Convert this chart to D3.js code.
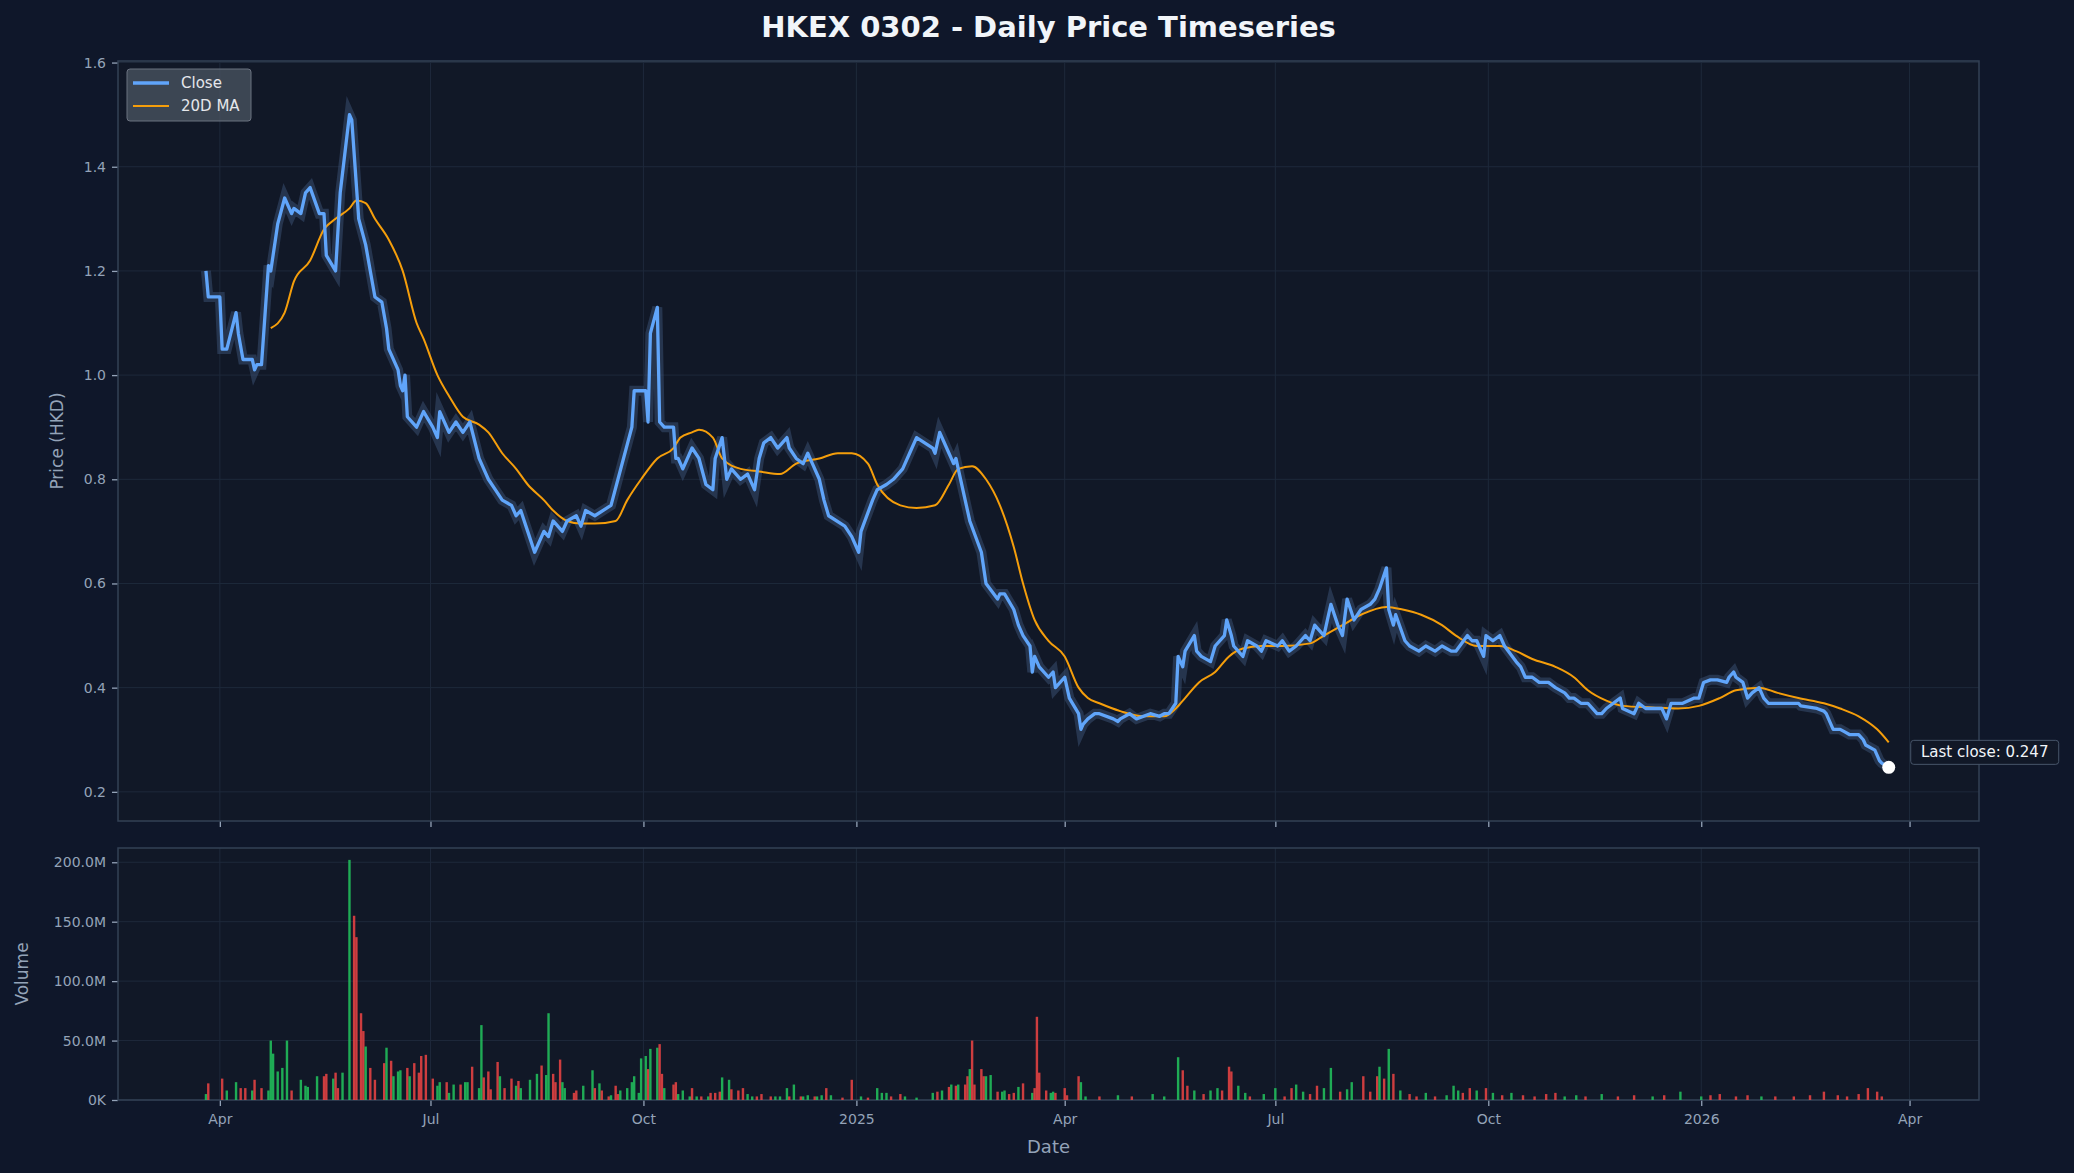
<!DOCTYPE html>
<html><head><meta charset="utf-8">
<script src="https://cdn.jsdelivr.net/npm/d3@7"></script>
<style>html,body{margin:0;padding:0;background:#0f172a;}svg{display:block;font-family:"DejaVu Sans",sans-serif;}</style>
</head><body>
<script>
const closeDates = ["2024-03-26","2024-03-27","2024-04-01","2024-04-02","2024-04-04","2024-04-08","2024-04-09","2024-04-11","2024-04-15","2024-04-16","2024-04-17","2024-04-19","2024-04-22","2024-04-23","2024-04-25","2024-04-26","2024-04-29","2024-05-02","2024-05-03","2024-05-06","2024-05-08","2024-05-10","2024-05-14","2024-05-16","2024-05-17","2024-05-21","2024-05-23","2024-05-27","2024-05-28","2024-05-31","2024-06-03","2024-06-05","2024-06-07","2024-06-10","2024-06-12","2024-06-13","2024-06-17","2024-06-18","2024-06-19","2024-06-20","2024-06-21","2024-06-25","2024-06-28","2024-07-02","2024-07-04","2024-07-05","2024-07-09","2024-07-12","2024-07-15","2024-07-18","2024-07-22","2024-07-24","2024-07-26","2024-07-29","2024-08-01","2024-08-05","2024-08-07","2024-08-09","2024-08-12","2024-08-15","2024-08-19","2024-08-21","2024-08-23","2024-08-27","2024-08-29","2024-09-02","2024-09-04","2024-09-06","2024-09-10","2024-09-17","2024-09-20","2024-09-26","2024-09-27","2024-10-02","2024-10-03","2024-10-04","2024-10-07","2024-10-08","2024-10-10","2024-10-14","2024-10-15","2024-10-16","2024-10-18","2024-10-22","2024-10-25","2024-10-28","2024-10-31","2024-11-01","2024-11-04","2024-11-06","2024-11-08","2024-11-12","2024-11-15","2024-11-18","2024-11-20","2024-11-22","2024-11-25","2024-11-28","2024-12-02","2024-12-03","2024-12-06","2024-12-09","2024-12-11","2024-12-13","2024-12-16","2024-12-18","2024-12-20","2024-12-27","2024-12-30","2025-01-02","2025-01-03","2025-01-08","2025-01-10","2025-01-14","2025-01-17","2025-01-21","2025-01-24","2025-01-27","2025-02-03","2025-02-04","2025-02-06","2025-02-10","2025-02-11","2025-02-12","2025-02-13","2025-02-19","2025-02-24","2025-02-26","2025-03-03","2025-03-04","2025-03-06","2025-03-10","2025-03-12","2025-03-14","2025-03-17","2025-03-18","2025-03-19","2025-03-21","2025-03-25","2025-03-27","2025-03-28","2025-04-01","2025-04-03","2025-04-07","2025-04-08","2025-04-09","2025-04-11","2025-04-14","2025-04-16","2025-04-22","2025-04-24","2025-04-25","2025-04-29","2025-05-02","2025-05-08","2025-05-12","2025-05-14","2025-05-16","2025-05-19","2025-05-20","2025-05-22","2025-05-23","2025-05-27","2025-05-28","2025-05-30","2025-06-03","2025-06-05","2025-06-09","2025-06-10","2025-06-12","2025-06-13","2025-06-17","2025-06-19","2025-06-23","2025-06-25","2025-06-27","2025-07-02","2025-07-04","2025-07-07","2025-07-10","2025-07-14","2025-07-16","2025-07-18","2025-07-22","2025-07-24","2025-07-25","2025-07-28","2025-07-30","2025-08-01","2025-08-04","2025-08-07","2025-08-11","2025-08-13","2025-08-15","2025-08-18","2025-08-19","2025-08-21","2025-08-22","2025-08-26","2025-08-28","2025-09-01","2025-09-04","2025-09-08","2025-09-11","2025-09-15","2025-09-17","2025-09-22","2025-09-24","2025-09-26","2025-09-29","2025-09-30","2025-10-03","2025-10-06","2025-10-08","2025-10-13","2025-10-15","2025-10-17","2025-10-20","2025-10-23","2025-10-27","2025-10-30","2025-11-03","2025-11-05","2025-11-07","2025-11-10","2025-11-13","2025-11-17","2025-11-19","2025-11-21","2025-11-24","2025-11-27","2025-11-28","2025-12-03","2025-12-05","2025-12-08","2025-12-11","2025-12-15","2025-12-17","2025-12-19","2025-12-22","2025-12-24","2025-12-29","2025-12-31","2026-01-02","2026-01-05","2026-01-08","2026-01-12","2026-01-13","2026-01-15","2026-01-16","2026-01-19","2026-01-21","2026-01-23","2026-01-26","2026-01-28","2026-01-30","2026-02-02","2026-02-06","2026-02-09","2026-02-12","2026-02-13","2026-02-20","2026-02-23","2026-02-24","2026-02-27","2026-03-02","2026-03-04","2026-03-06","2026-03-10","2026-03-12","2026-03-13","2026-03-17","2026-03-18","2026-03-19","2026-03-20","2026-03-23"];
const closeValues = [1.20,1.15,1.15,1.05,1.05,1.12,1.08,1.03,1.03,1.01,1.02,1.02,1.21,1.20,1.26,1.29,1.34,1.31,1.32,1.31,1.35,1.36,1.31,1.31,1.23,1.20,1.35,1.50,1.49,1.30,1.25,1.20,1.15,1.14,1.09,1.05,1.01,0.98,0.97,1.00,0.92,0.90,0.93,0.90,0.88,0.93,0.89,0.91,0.89,0.91,0.84,0.82,0.80,0.78,0.76,0.75,0.73,0.74,0.70,0.66,0.70,0.69,0.72,0.70,0.72,0.73,0.71,0.74,0.73,0.75,0.80,0.90,0.97,0.97,0.91,1.08,1.13,0.91,0.90,0.90,0.84,0.84,0.82,0.86,0.84,0.79,0.78,0.84,0.88,0.80,0.82,0.80,0.81,0.78,0.84,0.87,0.88,0.86,0.88,0.86,0.84,0.83,0.85,0.83,0.80,0.76,0.73,0.71,0.69,0.66,0.70,0.76,0.78,0.79,0.80,0.82,0.85,0.88,0.86,0.85,0.89,0.85,0.84,0.83,0.84,0.72,0.66,0.60,0.57,0.58,0.58,0.55,0.52,0.50,0.48,0.43,0.46,0.44,0.42,0.43,0.40,0.42,0.38,0.35,0.32,0.33,0.34,0.35,0.35,0.34,0.335,0.34,0.35,0.34,0.35,0.345,0.35,0.35,0.37,0.46,0.44,0.47,0.50,0.47,0.46,0.45,0.48,0.50,0.53,0.50,0.48,0.46,0.49,0.48,0.47,0.49,0.48,0.49,0.47,0.48,0.50,0.49,0.52,0.50,0.54,0.56,0.52,0.50,0.57,0.53,0.55,0.56,0.57,0.59,0.63,0.55,0.52,0.54,0.49,0.48,0.47,0.48,0.47,0.48,0.47,0.47,0.50,0.49,0.49,0.46,0.50,0.49,0.50,0.48,0.45,0.44,0.42,0.42,0.41,0.41,0.40,0.39,0.38,0.38,0.37,0.37,0.35,0.35,0.36,0.37,0.38,0.36,0.35,0.37,0.36,0.36,0.36,0.34,0.37,0.37,0.37,0.38,0.38,0.41,0.415,0.415,0.41,0.42,0.43,0.42,0.41,0.38,0.39,0.40,0.38,0.37,0.37,0.37,0.37,0.37,0.365,0.36,0.355,0.35,0.32,0.32,0.315,0.31,0.31,0.30,0.29,0.28,0.27,0.26,0.255,0.247];
const maDates = ["2024-04-23","2024-04-29","2024-05-03","2024-05-10","2024-05-16","2024-05-21","2024-05-27","2024-05-30","2024-06-03","2024-06-07","2024-06-13","2024-06-19","2024-06-25","2024-06-28","2024-07-04","2024-07-09","2024-07-15","2024-07-22","2024-07-26","2024-08-01","2024-08-07","2024-08-12","2024-08-19","2024-08-23","2024-08-29","2024-09-04","2024-09-10","2024-09-19","2024-09-24","2024-09-30","2024-10-07","2024-10-14","2024-10-17","2024-10-22","2024-10-25","2024-10-31","2024-11-04","2024-11-12","2024-11-20","2024-11-29","2024-12-06","2024-12-16","2024-12-24","2024-12-30","2025-01-06","2025-01-10","2025-01-20","2025-01-27","2025-02-04","2025-02-10","2025-02-14","2025-02-20","2025-02-26","2025-03-04","2025-03-10","2025-03-14","2025-03-19","2025-03-25","2025-04-01","2025-04-07","2025-04-11","2025-04-16","2025-04-25","2025-05-05","2025-05-14","2025-05-19","2025-05-23","2025-05-29","2025-06-05","2025-06-11","2025-06-17","2025-06-25","2025-07-04","2025-07-16","2025-07-22","2025-07-30","2025-08-07","2025-08-18","2025-08-25","2025-09-02","2025-09-11","2025-09-17","2025-09-26","2025-10-06","2025-10-13","2025-10-20","2025-10-30","2025-11-07","2025-11-13","2025-11-21","2025-11-28","2025-12-11","2025-12-22","2025-12-31","2026-01-09","2026-01-16","2026-01-26","2026-02-03","2026-02-12","2026-02-23","2026-03-02","2026-03-10","2026-03-18","2026-03-23"];
const maValues = [1.09,1.12,1.18,1.22,1.28,1.30,1.32,1.335,1.33,1.30,1.26,1.20,1.10,1.07,1.00,0.96,0.92,0.905,0.89,0.85,0.82,0.79,0.76,0.74,0.72,0.715,0.715,0.72,0.76,0.80,0.84,0.86,0.88,0.89,0.895,0.88,0.84,0.82,0.815,0.81,0.83,0.84,0.85,0.85,0.83,0.79,0.75,0.745,0.75,0.79,0.82,0.825,0.80,0.75,0.67,0.60,0.53,0.49,0.46,0.40,0.38,0.37,0.355,0.345,0.345,0.36,0.38,0.41,0.43,0.46,0.475,0.48,0.48,0.485,0.50,0.52,0.54,0.555,0.55,0.54,0.52,0.50,0.48,0.48,0.47,0.455,0.44,0.42,0.395,0.375,0.365,0.362,0.36,0.365,0.38,0.395,0.40,0.39,0.38,0.37,0.36,0.345,0.32,0.295];
// volume: days after 2024-04-01, volume in millions, direction (1 up / 0 down)
const volBaseDate = "2024-04-01";
const volDay = [-6,-5,1,3,7,9,11,14,15,18,21,22,23,25,27,29,31,35,37,38,42,45,46,49,50,51,53,56,58,59,61,62,63,65,67,71,72,74,75,77,78,81,82,84,86,87,89,92,94,95,98,99,101,104,106,107,109,112,113,114,116,117,120,121,123,126,128,129,130,134,137,139,141,142,144,145,147,148,149,153,154,157,161,162,164,165,168,169,171,172,173,176,178,179,181,182,184,185,186,189,190,191,192,196,197,198,200,203,204,206,208,211,212,214,216,217,220,221,224,226,228,230,232,234,238,240,242,245,246,248,251,252,254,257,258,260,262,264,269,273,277,280,284,286,288,290,294,296,301,308,310,312,315,316,318,319,322,323,324,325,326,329,330,331,333,336,338,339,341,343,345,347,351,352,353,354,357,359,360,361,365,366,371,372,374,380,388,394,403,408,414,416,418,421,425,428,431,433,436,437,440,443,445,451,456,460,463,465,468,471,474,477,480,484,487,489,494,497,500,501,503,505,507,510,514,517,521,525,530,533,535,537,540,543,547,550,554,558,563,568,573,577,581,586,590,597,604,611,619,624,631,640,644,648,655,660,666,672,680,687,693,699,703,708,712,716,718,721];
const volMillions = [5,14,18,8,15,10,10,8,17,10,8,50,39,24,27,50,8,17,12,11,20,20,22,18,23,10,23,202,155,137,73,58,45,27,17,31,44,33,20,24,25,27,20,31,23,37,38,18,12,15,15,6,13,13,15,15,28,10,63,19,24,9,32,20,10,18,12,16,10,17,22,29,21,73,22,15,34,15,10,6,8,12,25,10,14,8,3,4,12,5,8,10,15,20,6,35,37,26,43,44,47,22,10,13,15,5,8,3,10,3,3,3,6,6,7,19,17,9,8,10,5,3,3,5,3,3,3,10,3,13,3,3,4,3,3,4,10,4,2,17,3,2,10,6,6,3,5,3,2,6,7,8,11,13,12,13,13,20,26,50,13,26,20,20,21,7,7,8,5,6,11,14,6,10,70,23,8,6,7,6,10,4,20,15,3,3,4,3,5,3,36,25,12,8,5,8,10,8,28,24,12,6,3,5,10,3,10,13,7,5,12,10,27,7,9,15,20,7,20,28,18,43,22,8,5,3,6,3,4,12,8,6,10,8,10,6,4,6,4,3,5,6,3,4,3,5,3,4,3,4,7,3,4,5,3,4,3,3,3,4,7,4,3,5,10,7,3];
const volUp = [1,0,0,1,1,0,0,1,0,0,1,1,1,1,1,1,0,1,1,1,1,0,0,1,0,0,1,1,0,0,0,0,1,0,0,0,1,0,1,1,1,0,1,0,0,0,0,0,1,1,0,1,1,0,1,1,0,1,1,0,0,0,0,1,0,0,1,0,1,1,1,0,1,1,0,0,0,1,1,0,0,1,1,0,1,0,0,1,0,0,1,1,1,1,1,1,1,0,1,1,0,0,1,0,0,1,1,1,0,1,0,1,0,0,0,1,1,0,0,0,1,1,0,0,0,1,1,1,0,1,0,1,1,0,1,1,0,1,0,0,1,0,1,1,1,0,0,1,1,1,0,1,0,1,0,1,0,0,1,0,0,0,0,1,1,0,1,1,0,0,1,0,1,0,0,0,0,1,1,0,0,0,0,1,1,0,1,0,1,1,1,0,0,1,0,1,1,0,0,0,1,1,0,1,1,0,0,1,1,0,0,1,1,0,1,1,0,0,0,1,0,1,0,1,0,0,1,0,1,1,1,0,0,1,0,1,0,1,0,0,0,0,1,1,0,1,0,0,1,0,1,1,0,0,0,0,1,0,0,0,0];
const priceTicks = [0.2,0.4,0.6,0.8,1.0,1.2,1.4,1.6];
const volTicks = [0,50e6,100e6,150e6,200e6];
const lastCloseLabel = "Last close: 0.247";

const W=2074,H=1173;
const parse=d3.timeParse("%Y-%m-%d");
const closeData=closeDates.map((d,i)=>({date:parse(d),v:closeValues[i]}));
const maData=maDates.map((d,i)=>({date:parse(d),v:maValues[i]}));
const base=parse(volBaseDate);
const volData=volDay.map((d,i)=>({date:d3.timeDay.offset(base,d),v:volMillions[i]*1e6,up:volUp[i]}));

const L=118,R=1979,pT=61,pB=821,vT=848,vB=1100;
const x=d3.scaleTime().domain([parse("2024-02-17"),parse("2026-05-01")]).range([L,R]);
const y=d3.scaleLinear().domain([0.144,1.603]).range([pB,pT]);
const yv=d3.scaleLinear().domain([0,212e6]).range([vB,vT]);
const xTicks=[parse("2024-04-01"),parse("2024-07-01"),parse("2024-10-01"),parse("2025-01-01"),parse("2025-04-01"),parse("2025-07-01"),parse("2025-10-01"),parse("2026-01-01"),parse("2026-04-01")];
const xFmt=d=>d.getMonth()===0?d3.timeFormat("%Y")(d):d3.timeFormat("%b")(d);

const svg=d3.select("body").append("svg").attr("width",W).attr("height",H);
svg.append("rect").attr("width",W).attr("height",H).attr("fill","#0f172a");
const txt="#94a3b8",grid="#1e293b",spine="#334155";
[[pT,pB],[vT,vB]].forEach(([t,b])=>svg.append("rect").attr("x",L).attr("y",t).attr("width",R-L).attr("height",b-t).attr("fill","#111827"));

// grids
const gP=svg.append("g");
gP.selectAll("line.h").data(priceTicks).join("line").attr("x1",L).attr("x2",R).attr("y1",d=>y(d)).attr("y2",d=>y(d)).attr("stroke",grid).attr("stroke-width",1);
[[pT,pB],[vT,vB]].forEach(([t,b])=>svg.append("g").selectAll("line").data(xTicks).join("line").attr("x1",d=>x(d)).attr("x2",d=>x(d)).attr("y1",t).attr("y2",b).attr("stroke",grid));
svg.append("g").selectAll("line").data(volTicks).join("line").attr("x1",L).attr("x2",R).attr("y1",d=>yv(d)).attr("y2",d=>yv(d)).attr("stroke",grid);

// axes
const styleAx=g=>{g.select(".domain").remove();g.selectAll(".tick line").attr("stroke",txt).attr("stroke-width",1.3);g.selectAll("text").attr("fill",txt).attr("font-size",14).attr("font-family","DejaVu Sans");};
svg.append("g").attr("transform",`translate(${L},0)`).call(d3.axisLeft(y).tickValues(priceTicks).tickFormat(d3.format(".1f")).tickSize(6).tickPadding(6)).call(styleAx);
svg.append("g").attr("transform",`translate(0,${pB})`).call(d3.axisBottom(x).tickValues(xTicks).tickFormat("").tickSize(6)).call(styleAx);
svg.append("g").attr("transform",`translate(${L},0)`).call(d3.axisLeft(yv).tickValues(volTicks).tickFormat(d=>d===0?"0K":(d/1e6).toFixed(1)+"M").tickSize(6).tickPadding(6)).call(styleAx);
svg.append("g").attr("transform",`translate(0,${vB})`).call(d3.axisBottom(x).tickValues(xTicks).tickFormat(xFmt).tickSize(6).tickPadding(8)).call(styleAx);

// spines
[[pT,pB],[vT,vB]].forEach(([t,b])=>svg.append("rect").attr("x",L).attr("y",t).attr("width",R-L).attr("height",b-t).attr("fill","none").attr("stroke",spine).attr("stroke-width",1.5));

// volume bars
svg.append("g").selectAll("rect").data(volData).join("rect")
 .attr("x",d=>x(d.date)-1.2).attr("width",2.4).attr("y",d=>yv(d.v)).attr("height",d=>vB-yv(d.v))
 .attr("fill",d=>d.up?"#22c55e":"#ef4444").attr("opacity",0.85);

// price lines
const line=d3.line().x(d=>x(d.date)).y(d=>y(d.v));
svg.append("path").datum(closeData).attr("d",line).attr("fill","none").attr("stroke","#3b5275").attr("stroke-opacity",0.5).attr("stroke-width",10).attr("stroke-linejoin","miter");
svg.append("path").datum(maData).attr("d",d3.line().x(d=>x(d.date)).y(d=>y(d.v)).curve(d3.curveMonotoneX)).attr("fill","none").attr("stroke","#f59e0b").attr("stroke-width",2);
svg.append("path").datum(closeData).attr("d",line).attr("fill","none").attr("stroke","#60a5fa").attr("stroke-width",3.3).attr("stroke-linejoin","round");

const last=closeData[closeData.length-1];
svg.append("circle").attr("cx",x(last.date)).attr("cy",y(last.v)).attr("r",6.5).attr("fill","#ffffff");
const ann=svg.append("g").attr("transform",`translate(${x(last.date)+22},${y(last.v)-27})`);
ann.append("rect").attr("width",148).attr("height",24).attr("rx",3).attr("fill","#111827").attr("stroke","#475569");
ann.append("text").attr("x",74).attr("y",17).attr("text-anchor","middle").attr("fill","#f1f5f9").attr("font-size",15).text(lastCloseLabel);

// legend
const lg=svg.append("g").attr("transform",`translate(127,69)`);
lg.append("rect").attr("width",124).attr("height",52).attr("rx",3).attr("fill","#4b5563").attr("fill-opacity",0.75).attr("stroke","#6b7280");
lg.append("line").attr("x1",6).attr("x2",42).attr("y1",14).attr("y2",14).attr("stroke","#60a5fa").attr("stroke-width",3.3);
lg.append("line").attr("x1",6).attr("x2",42).attr("y1",37).attr("y2",37).attr("stroke","#f59e0b").attr("stroke-width",2);
lg.append("text").attr("x",54).attr("y",19).attr("fill","#e5e7eb").attr("font-size",15).text("Close");
lg.append("text").attr("x",54).attr("y",42).attr("fill","#e5e7eb").attr("font-size",15).text("20D MA");

// titles
svg.append("text").attr("x",(L+R)/2).attr("y",37).attr("text-anchor","middle").attr("fill","#f1f5f9").attr("font-size",29).attr("font-weight","bold").text("HKEX 0302 - Daily Price Timeseries");
svg.append("text").attr("transform",`translate(63,${(pT+pB)/2}) rotate(-90)`).attr("text-anchor","middle").attr("fill",txt).attr("font-size",17).text("Price (HKD)");
svg.append("text").attr("transform",`translate(28,${(vT+vB)/2}) rotate(-90)`).attr("text-anchor","middle").attr("fill",txt).attr("font-size",17).text("Volume");
svg.append("text").attr("x",(L+R)/2).attr("y",1153).attr("text-anchor","middle").attr("fill",txt).attr("font-size",18).text("Date");
</script>
</body></html>
